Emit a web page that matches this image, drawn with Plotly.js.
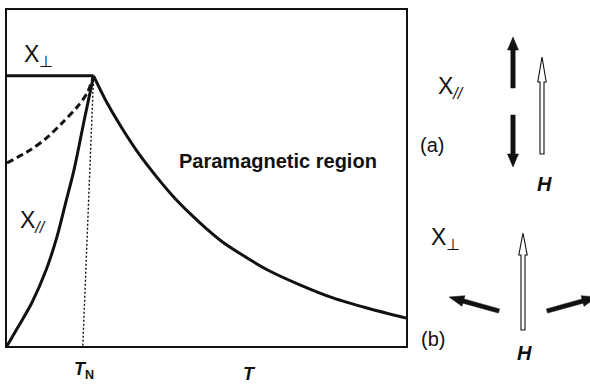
<!DOCTYPE html>
<html>
<head>
<meta charset="utf-8">
<script src="https://cdn.plot.ly/plotly-3.0.1.min.js"></script>
<style>
  html, body { margin: 0; padding: 0; background: #fff; }
  #chart { width: 590px; height: 386px; }
</style>
</head>
<body>
<div id="chart"></div>
<script>
// Susceptibility of an antiferromagnet versus temperature (arbitrary units, 0-100)
const T_perp   = [0, 21.7];
const chi_perp = [80.4, 80.4];

const T_para   = [21.7, 25.1, 29.1, 33.3, 37.6, 41.6, 45.9, 50.1, 54.1, 60.2, 65.2, 73.4, 81.7, 90.2, 100];
const chi_para = [80.4, 72.3, 64.3, 56.8, 50.2, 44.6, 39.4, 34.8, 30.9, 26.2, 22.7, 18.2, 14.3, 11.3, 8.3];

const T_dash   = [0, 5.8, 10.0, 14.0, 17.5, 20.1, 21.7];
const chi_dash = [54.5, 58.3, 62.0, 66.6, 71.0, 75.3, 80.4];

const T_par    = [0, 2.8, 6.2, 9.8, 12.5, 14.7, 16.8, 19.4, 21.7];
const chi_par  = [0, 5.7, 12.8, 22.6, 32.4, 42.6, 52.4, 67.5, 80.4];

const T_neel   = [21.7, 19.0];
const chi_neel = [80.4, 0];

// figure geometry helpers: pixel position -> paper fraction
const L = 7, R = 406, TOP = 10, BOT = 346;
const X = px => (px - L) / (R - L);
const Y = py => (BOT - py) / (BOT - TOP);

const ink = '#111';
const lineTrace = (x, y, extra) => Object.assign({
  x, y, type: 'scatter', mode: 'lines', hoverinfo: 'skip',
  line: { color: ink, width: 3, shape: 'spline', smoothing: 0.8 }
}, extra || {});

const traces = [
  lineTrace(T_perp, chi_perp, { line: { color: ink, width: 3 } }),
  lineTrace(T_para, chi_para),
  lineTrace(T_dash, chi_dash, { line: { color: ink, width: 3, dash: '7px,4px', shape: 'spline', smoothing: 0.8 } }),
  lineTrace(T_par, chi_par),
  lineTrace(T_neel, chi_neel, { line: { color: ink, width: 1.4, dash: '2px,2px' } })
];

// arrow outline polygon from tail to tip (pixel coords) -> paper path
function arrowPath(tx, ty, hx, hy, headLen, headHalf, shaftHalf) {
  const dx = hx - tx, dy = hy - ty, len = Math.hypot(dx, dy);
  const ux = dx / len, uy = dy / len, nx = -uy, ny = ux;
  const bx = hx - ux * headLen, by = hy - uy * headLen;
  const pts = [
    [tx + nx * shaftHalf, ty + ny * shaftHalf],
    [bx + nx * shaftHalf, by + ny * shaftHalf],
    [bx + nx * headHalf, by + ny * headHalf],
    [hx, hy],
    [bx - nx * headHalf, by - ny * headHalf],
    [bx - nx * shaftHalf, by - ny * shaftHalf],
    [tx - nx * shaftHalf, ty - ny * shaftHalf]
  ];
  return 'M' + pts.map(p => X(p[0]).toFixed(5) + ',' + Y(p[1]).toFixed(5)).join(' L') + ' Z';
}
const solidArrow = (a, b, c, d, hl) => ({
  type: 'path', xref: 'paper', yref: 'paper', layer: 'above',
  path: arrowPath(a, b, c, d, hl || 13, 5.5, 2.2),
  fillcolor: ink, line: { color: ink, width: 0.5 }
});
const hollowArrow = (a, b, c, d, hl) => ({
  type: 'path', xref: 'paper', yref: 'paper', layer: 'above',
  path: arrowPath(a, b, c, d, hl, 4.2, 2),
  fillcolor: '#fff', line: { color: ink, width: 1.1 }
});

const shapes = [
  solidArrow(513, 88, 513, 37),
  solidArrow(513, 115, 513, 167),
  hollowArrow(542, 154, 542, 57, 25),
  solidArrow(499, 311, 449, 297, 15),
  solidArrow(547, 311, 597, 297, 15),
  hollowArrow(523, 330, 523, 233, 22)
];

const font = (size, extra) => Object.assign({ family: 'Liberation Sans, Arial, sans-serif', size, color: ink }, extra || {});
const note = (px, py, text, size, xanchor) => ({
  xref: 'paper', yref: 'paper', x: X(px), y: Y(py), text, showarrow: false,
  xanchor: xanchor || 'center', yanchor: 'middle', font: font(size)
});

const annotations = [
  note(22, 56, 'Χ<sub>⊥</sub>', 23, 'left'),
  note(18, 221, 'Χ<sub><i>//</i></sub>', 23, 'left'),
  note(436, 88, 'Χ<sub><i>//</i></sub>', 23, 'left'),
  note(429, 238, 'Χ<sub>⊥</sub>', 23, 'left'),
  note(278, 161, '<b>Paramagnetic region</b>', 20),
  note(432, 145, '(a)', 20),
  note(433, 339, '(b)', 20),
  note(544, 184, '<b><i>H</i></b>', 20),
  note(524, 353, '<b><i>H</i></b>', 20),
  note(249, 374, '<b><i>T</i></b>', 18),
  {
    xref: 'x', yref: 'paper', x: T_neel[1] + 0.3, y: Y(370),
    text: '<b><i>T</i></b><sub><b>N</b></sub>', showarrow: false,
    xanchor: 'center', yanchor: 'middle', font: font(18)
  }
];

const axis = {
  range: [0, 100], showgrid: false, zeroline: false, showticklabels: false,
  ticks: '', showline: true, mirror: true, linecolor: ink, linewidth: 2, fixedrange: true
};

const layout = {
  width: 590, height: 386,
  margin: { l: L, r: 590 - R, t: TOP, b: 386 - BOT },
  paper_bgcolor: '#fff', plot_bgcolor: '#fff',
  showlegend: false,
  xaxis: Object.assign({}, axis),
  yaxis: Object.assign({}, axis),
  shapes, annotations
};

Plotly.newPlot('chart', traces, layout, { displayModeBar: false });
</script>
</body>
</html>
